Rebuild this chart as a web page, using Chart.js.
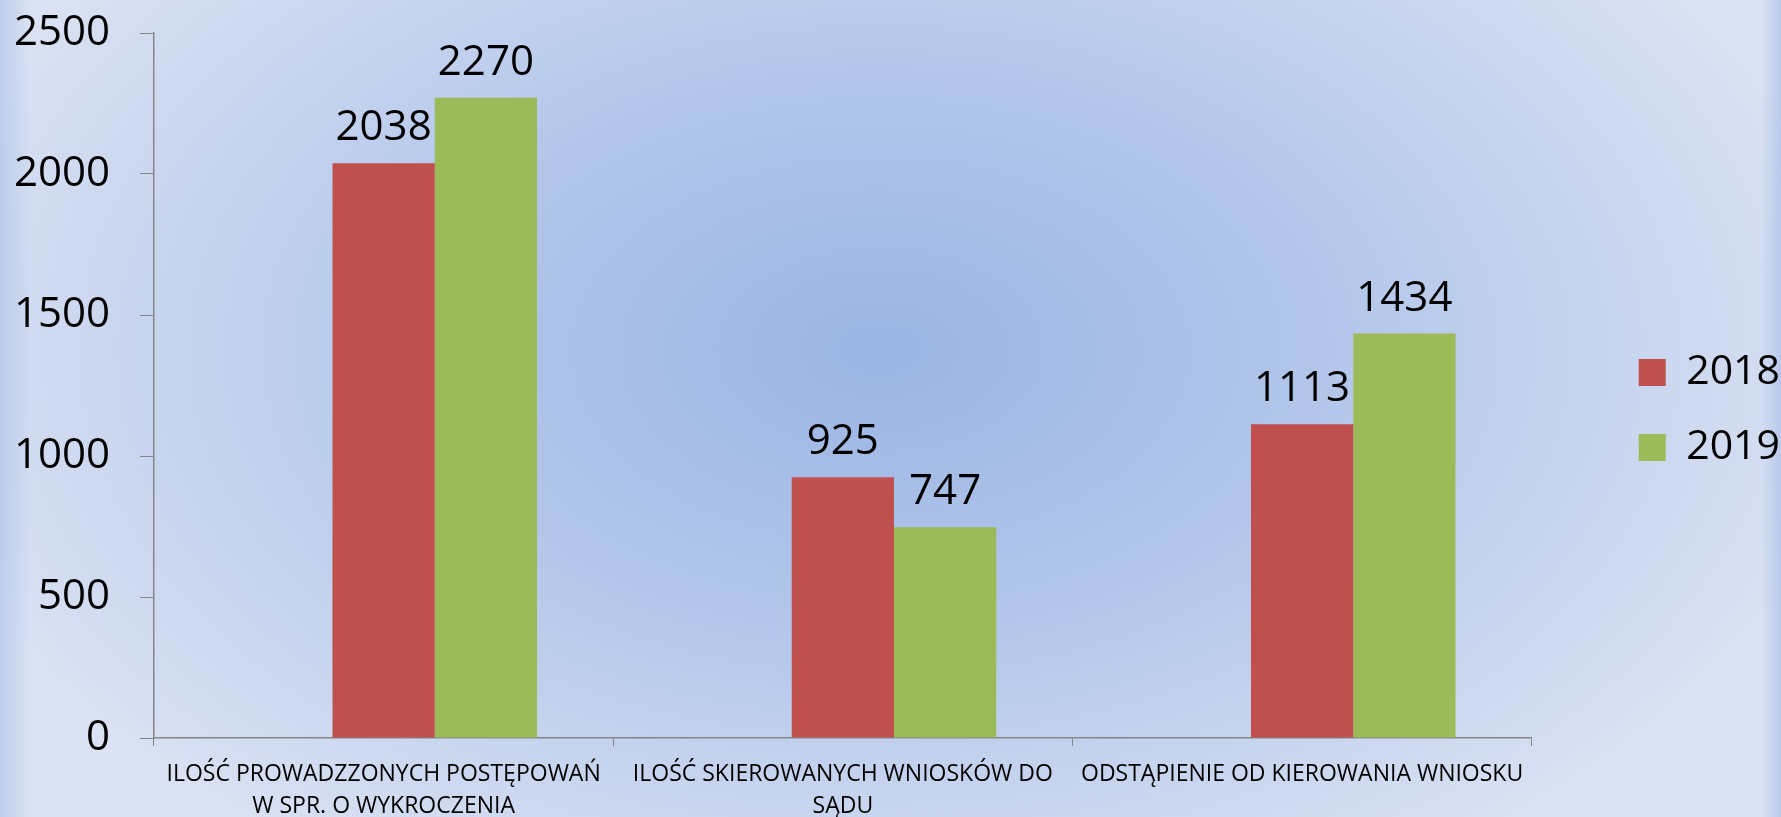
<!DOCTYPE html>
<html>
<head>
<meta charset="utf-8">
<script src="https://cdn.jsdelivr.net/npm/chart.js@4/dist/chart.umd.min.js"></script>
<style>
html,body{margin:0;padding:0;background:#c8d5ef;}
#wrap{width:1781px;height:817px;position:relative;}
</style>
</head>
<body>
<div id="wrap"><canvas id="c" width="1781" height="817"></canvas></div>
<script>
const categories = [
  ["ILOŚĆ PROWADZZONYCH POSTĘPOWAŃ", "W SPR. O WYKROCZENIA"],
  ["ILOŚĆ SKIEROWANYCH WNIOSKÓW DO", "SĄDU"],
  ["ODSTĄPIENIE OD KIEROWANIA WNIOSKU"]
];
const seriesNames = ["", "2018", "2019"];
const valuesEmpty = [null, null, null];
const values2018 = [2038, 925, 1113];
const values2019 = [2270, 747, 1434];
const yTicks = [0, 500, 1000, 1500, 2000, 2500];

const bgPlugin = {
  id: 'bg',
  beforeDraw(chart) {
    const ctx = chart.ctx, w = chart.width, h = chart.height;
    ctx.save();
    ctx.fillStyle = '#d6e0f3';
    ctx.fillRect(0, 0, w, h);
    ctx.translate(880, 350);
    ctx.scale(1.6, 1);
    const g = ctx.createRadialGradient(0, 0, 0, 0, 0, 620);
    g.addColorStop(0, '#9ab5e3');
    g.addColorStop(0.45, '#b3c6ea');
    g.addColorStop(1, '#dae2f3');
    ctx.fillStyle = g;
    ctx.fillRect(-900, -400, 1900, 900);
    ctx.restore();
    ctx.save();
    const lg = ctx.createLinearGradient(0, 0, 30, 0);
    lg.addColorStop(0, 'rgba(170,192,232,0.6)');
    lg.addColorStop(1, 'rgba(170,192,232,0)');
    ctx.fillStyle = lg;
    ctx.fillRect(0, 0, 30, h);
    const rg = ctx.createLinearGradient(w - 20, 0, w, 0);
    rg.addColorStop(0, 'rgba(170,192,232,0)');
    rg.addColorStop(1, 'rgba(170,192,232,0.7)');
    ctx.fillStyle = rg;
    ctx.fillRect(w - 20, 0, 20, h);
    ctx.restore();
  }
};

const legendShift = {
  id: 'legendShift',
  afterLayout(chart) {
    const lg = chart.legend;
    if (lg) { lg.left += 73; lg.right += 73; lg.top -= 15; lg.bottom -= 15; }
  }
};

const labelPlugin = {
  id: 'vals',
  afterDatasetsDraw(chart) {
    const ctx = chart.ctx;
    ctx.save();
    ctx.font = '42px "Open Sans"';
    ctx.fillStyle = '#000';
    ctx.textAlign = 'center';
    ctx.textBaseline = 'alphabetic';
    chart.data.datasets.forEach((ds, i) => {
      const meta = chart.getDatasetMeta(i);
      meta.data.forEach((bar, j) => {
        if (ds.data[j] == null) return;
        ctx.fillText(String(ds.data[j]), bar.x, bar.y - 23);
      });
    });
    ctx.restore();
  }
};

new Chart(document.getElementById('c'), {
  type: 'bar',
  data: {
    labels: categories,
    datasets: [
      { label: seriesNames[0], data: valuesEmpty, backgroundColor: 'rgba(0,0,0,0)', borderWidth: 0 },
      { label: seriesNames[1], data: values2018, backgroundColor: '#c0504d', borderWidth: 0 },
      { label: seriesNames[2], data: values2019, backgroundColor: '#9bbb59', borderWidth: 0 }
    ]
  },
  options: {
    responsive: false,
    animation: false,
    layout: { padding: { left: 0, right: 64, top: 33, bottom: 0 } },
    datasets: { bar: { categoryPercentage: 0.668, barPercentage: 1.0 } },
    scales: {
      x: {
        afterFit(scale) { scale.height = 79; },
        grid: { offset: true, drawOnChartArea: false, drawTicks: true, tickLength: 8, color: '#868686' },
        border: { color: '#868686', width: 1.5 },
        ticks: { color: '#000', font: { family: 'Open Sans', size: 23, lineHeight: 1.39 }, padding: 12, maxRotation: 0, autoSkip: false }
      },
      y: {
        min: 0, max: 2500,
        afterBuildTicks(scale) { scale.ticks = yTicks.map(v => ({ value: v })); },
        afterFit(scale) { scale.width = 154; scale.paddingTop = 0; },
        grid: { drawOnChartArea: false, drawTicks: true, tickLength: 14, color: '#868686' },
        border: { color: '#868686', width: 1.5 },
        ticks: { color: '#000', font: { family: 'Open Sans', size: 42 }, padding: 30, callback: (v) => String(v) }
      }
    },
    plugins: {
      legend: {
        position: 'right',
        labels: {
          boxWidth: 27, boxHeight: 27, padding: 34, color: '#000',
          font: { family: 'Open Sans', size: 41 },
          filter: (item) => item.text !== ''
        }
      },
      tooltip: { enabled: false }
    }
  },
  plugins: [bgPlugin, legendShift, labelPlugin]
});
</script>
</body>
</html>
